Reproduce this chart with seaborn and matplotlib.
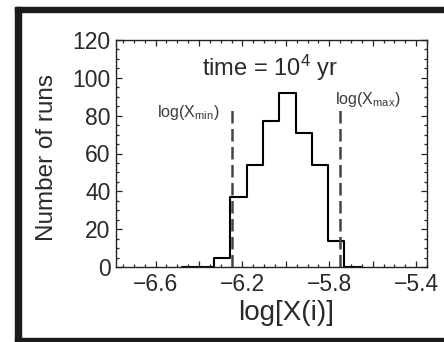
import numpy as np
import pandas as pd
import matplotlib
matplotlib.use("Agg")
import matplotlib.pyplot as plt
import seaborn as sns
from matplotlib.patches import Rectangle
from matplotlib.ticker import MultipleLocator, FixedLocator, FixedFormatter

# Histogram of log abundance across runs
bin_edges = [-6.48, -6.405, -6.33, -6.255, -6.18, -6.105, -6.03,
             -5.955, -5.88, -5.805, -5.73, -5.655]
run_counts = [0, 0, 5, 37, 54, 77, 92, 71, 54, 14, 0]

# Bounds of the allowed range
log_x_min = -6.25
log_x_max = -5.75
bound_height = 85

x_ticks = [-6.6, -6.4, -6.2, -6.0, -5.8, -5.6, -5.4]
x_tick_labels = ["\u22126.6", "", "\u22126.2", "", "\u22125.8", "", "\u22125.4"]
y_ticks = [0, 20, 40, 60, 80, 100, 120]
y_tick_labels = ["0", "20", "40", "60", "80", "100", "120"]

sns.set_style("ticks")
plt.rcParams["font.family"] = ["Liberation Sans", "DejaVu Sans"]
plt.rcParams["mathtext.fontset"] = "custom"
plt.rcParams["mathtext.rm"] = "Liberation Sans"
plt.rcParams["mathtext.it"] = "Liberation Sans:italic"

W, H = 444, 342
fig = plt.figure(figsize=(W / 100, H / 100), dpi=100)
ax = fig.add_axes([116 / W, 1 - 267 / H, (427 - 116) / W, (267 - 40) / H])

centers = [(a + b) / 2 for a, b in zip(bin_edges[:-1], bin_edges[1:])]
df = pd.DataFrame({"log_x": centers, "runs": run_counts})
sns.histplot(data=df, x="log_x", weights="runs", bins=bin_edges,
             element="step", fill=False, color="black", linewidth=1.5, ax=ax)

dash_col = "#444444"
for xv in (log_x_min, log_x_max):
    ax.plot([xv, xv], [0, bound_height], color=dash_col, lw=1.8,
            dashes=(5, 2.2), zorder=3)

ax.set_xlim(-6.782, -5.35)
ax.set_ylim(0, 120)

ax.xaxis.set_major_locator(FixedLocator(x_ticks))
ax.xaxis.set_major_formatter(FixedFormatter(x_tick_labels))
ax.xaxis.set_minor_locator(MultipleLocator(0.05))
ax.yaxis.set_major_locator(FixedLocator(y_ticks))
ax.yaxis.set_major_formatter(FixedFormatter(y_tick_labels))
ax.yaxis.set_minor_locator(MultipleLocator(5))

txt_col = "#2a2a2a"
ax.tick_params(which="both", direction="in", top=True, right=True,
               colors="#222222", labelcolor=txt_col, width=0.9)
ax.tick_params(which="major", length=4.5, labelsize=16.5, pad=4)
ax.tick_params(which="minor", length=2.2)
for s in ax.spines.values():
    s.set_linewidth(1.0)
    s.set_color("#222222")

ax.set_xlabel("log[X(i)]", fontsize=20, color=txt_col)
ax.set_ylabel("Number of runs", fontsize=17.5, color=txt_col)
ax.xaxis.set_label_coords(0.548, -0.203)
ax.xaxis.label.set_va("center")
ax.yaxis.set_label_coords(-0.222, 0.482)
ax.yaxis.label.set_va("center")

ax.text(0.495, 0.877, r"time = 10$^{\mathrm{4}}$ yr", transform=ax.transAxes,
        ha="center", va="center", fontsize=17, color=txt_col)
ax.text(-6.448, 81.7, r"log(X$_{\mathrm{min}}$)", ha="center", va="center",
        fontsize=11.5, color="#3a3a3a")
ax.text(-5.621, 88.8, r"log(X$_{\mathrm{max}}$)", ha="center", va="center",
        fontsize=11.5, color="#3a3a3a")

# heavy frame around the panel
frame_col = "#1c1a1a"
def px_rect(x0, y0, x1, y1):
    fig.patches.append(Rectangle((x0 / W, 1 - y1 / H), (x1 - x0) / W, (y1 - y0) / H,
                                 transform=fig.transFigure, color=frame_col,
                                 zorder=10))
px_rect(14.5, 7.3, 21.3, 342)
px_rect(14.5, 7.3, 444, 11.7)
px_rect(14.5, 337.5, 444, 341.5)

fig.savefig("out.png", dpi=100)
